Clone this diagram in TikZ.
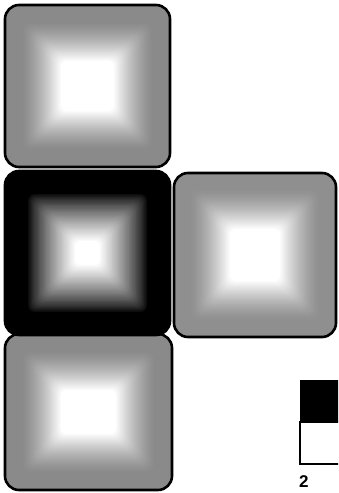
\documentclass[tikz,border=0pt]{standalone}
\usepackage{fontspec}
\setmainfont{Liberation Sans}
\begin{document}
\begin{tikzpicture}[x=1pt,y=-1pt,
  frame/.style={draw=black,line width=2.6pt,rounded corners=14pt}]
\useasboundingbox (0,0) rectangle (338,493);
\clip (0,0) rectangle (338,493);
\newcommand\gradbox[8]{%
  \fill[black!#5,rounded corners=14pt] (#1,#2) rectangle (#3,#4);
  \foreach \i in {0,...,40}{%
    \pgfmathsetmacro\dd{#6+(#7-#6)*\i/40}%
    \pgfmathsetmacro\cc{#5*(1-(\i/40)^#8)}%
    \pgfmathsetmacro\rr{max(14-\dd,6)}%
    \fill[black!\cc,rounded corners=\rr pt] ({#1+\dd},{#2+\dd}) rectangle ({#3-\dd},{#4-\dd});
  }%
  \draw[frame] (#1,#2) rectangle (#3,#4);
}
% bottom box
\gradbox{5}{334}{172}{490}{46}{16}{56}{1.4}
% top box
\gradbox{5}{5}{170}{167}{46}{16}{56}{1.4}
% middle dark box
\gradbox{5}{171}{170}{335}{100}{22}{70}{0.8}
% right box
\gradbox{174}{173}{336}{337}{44}{16}{56}{1.4}
% legend
\fill[black] (300,380) rectangle (340,422);
\draw[line width=1.6pt] (300,422) rectangle (340,464);
\node[anchor=north west,inner sep=0pt,font=\bfseries\fontsize{17}{19}\selectfont] (lab) at (299,475) {2};
\end{tikzpicture}
\end{document}
